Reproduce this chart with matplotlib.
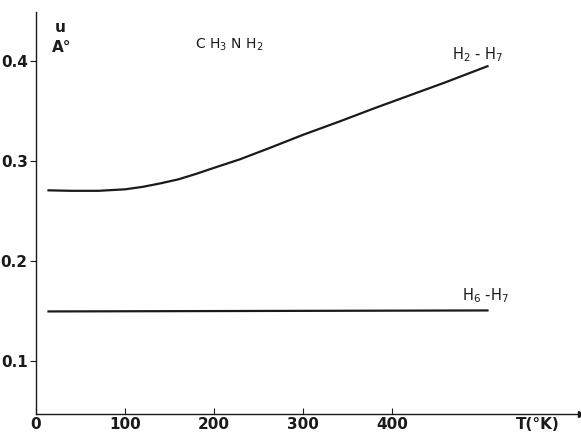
import matplotlib.pyplot as plt

# dane
T_27 = [14, 40, 70, 100, 120, 140, 160, 180, 200, 229, 260, 300, 340, 380,
        420, 460, 507]
u_27 = [0.271, 0.2705, 0.2705, 0.272, 0.2745, 0.278, 0.282, 0.2875, 0.2935,
        0.302, 0.3125, 0.3265, 0.3395, 0.353, 0.366, 0.379, 0.395]
T_67 = [14, 507]
u_67 = [0.150, 0.151]

x_ticks = [0, 100, 200, 300, 400]
y_ticks = [0.1, 0.2, 0.3, 0.4]

plt.rcParams['mathtext.default'] = 'regular'
ink = '#1a1a1a'

fig = plt.figure(figsize=(5.81, 4.34), dpi=100)
ax = fig.add_axes([0.062, 0.046, 0.938, 0.926])

ax.plot(T_27, u_27, color=ink, lw=1.6, solid_joinstyle='round')
ax.plot(T_67, u_67, color=ink, lw=1.6)

ax.set_xlim(0, 612)
ax.set_ylim(0.0475, 0.449)

for s in ['top', 'right']:
    ax.spines[s].set_visible(False)
for s in ['left', 'bottom']:
    ax.spines[s].set_color(ink)
    ax.spines[s].set_linewidth(1.0)

# strzałka na końcu osi T
ax.plot(1, 0, '>', color=ink, ms=5, transform=ax.transAxes, clip_on=False)

ax.set_xticks(x_ticks)
ax.set_xticklabels([str(v) for v in x_ticks], fontsize=11, fontweight='bold', color=ink)
ax.set_yticks(y_ticks)
ax.set_yticklabels([str(v) for v in y_ticks], fontsize=11, fontweight='bold', color=ink)
ax.tick_params(axis='x', direction='in', length=4, width=0.8, color=ink, pad=2)
ax.tick_params(axis='y', direction='out', length=4, width=0.8, color=ink, pad=2)

ax.text(563, 0.0475 - 0.0025, 'T(°K)', fontsize=11, fontweight='bold', color=ink,
        ha='center', va='top')
ax.text(27, 0.4335, 'u', fontsize=11, fontweight='bold', color=ink,
        ha='center', va='center')
ax.text(29, 0.414, 'A°', fontsize=11, fontweight='bold', color=ink,
        ha='center', va='center')
ax.text(217, 0.416, 'C H$_3$ N H$_2$', fontsize=10, color=ink, ha='center', va='center')
ax.text(496, 0.407, 'H$_2$ - H$_7$', fontsize=10.5, color=ink, ha='center', va='center')
ax.text(505, 0.166, 'H$_6$ -H$_7$', fontsize=10.5, color=ink, ha='center', va='center')

fig.savefig('out.png', dpi=100)
